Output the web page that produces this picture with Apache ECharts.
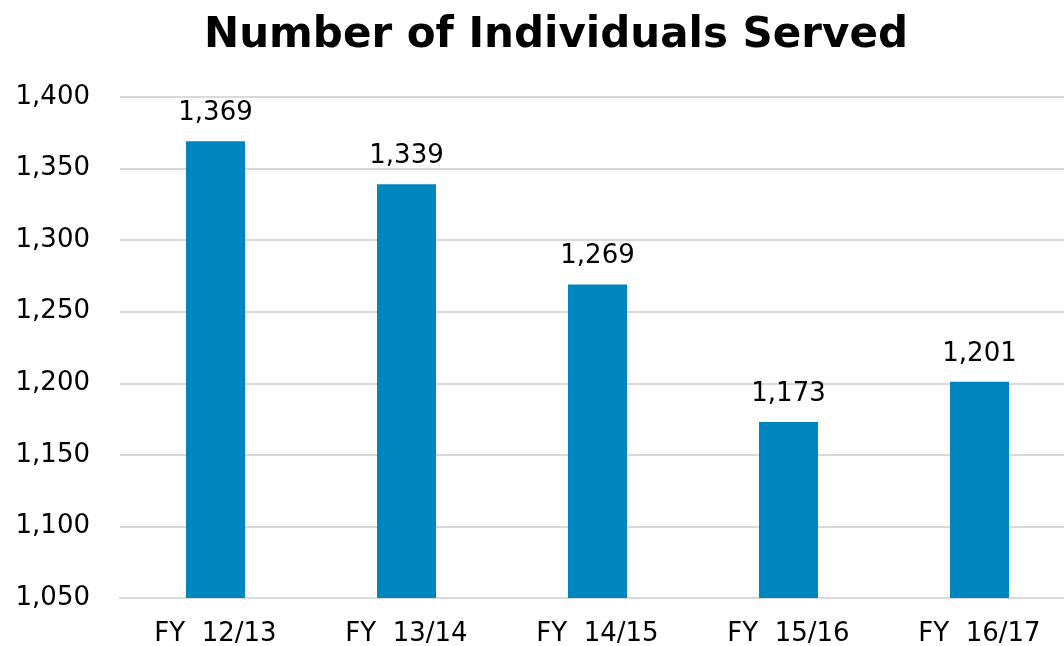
<!DOCTYPE html>
<html>
<head>
<meta charset="utf-8">
<script src="https://cdn.jsdelivr.net/npm/echarts@6/dist/echarts.min.js"></script>
<style>
  html, body { margin: 0; padding: 0; background: #fff; }
  #main { width: 1064px; height: 646px; }
</style>
</head>
<body>
<div id="main"></div>
<script>
// chart data
const categories = ['FY 12/13', 'FY 13/14', 'FY 14/15', 'FY 15/16', 'FY 16/17'];
const individuals = [1369, 1339, 1269, 1173, 1201];

const fmt = v => v.toLocaleString('en-US');

const myChart = echarts.init(document.getElementById('main'));

let option = {
  animation: false,
  textStyle: { fontFamily: 'DejaVu Sans, sans-serif' },
  title: {
    text: 'Number of Individuals Served',
    left: 551,
    top: 10,
    textAlign: 'center',
    textStyle: { fontSize: 42, fontWeight: 'bold', color: '#000', fontFamily: 'DejaVu Sans' }
  },
  grid: { left: 120, width: 955, top: 97, bottom: 48, outerBoundsMode: 'none', containLabel: false },
  xAxis: {
    type: 'category',
    data: categories,
    axisTick: { show: false },
    axisLine: { lineStyle: { color: '#d9d9d9', width: 2 } },
    axisLabel: { fontSize: 26, color: '#000', margin: 23, formatter: v => v.replace(' ', '  ') }
  },
  yAxis: {
    type: 'value',
    min: 1050,
    max: 1400,
    interval: 50,
    axisLabel: { fontSize: 26, color: '#000', margin: 30, formatter: fmt },
    splitLine: { lineStyle: { color: '#d9d9d9', width: 2 } }
  },
  series: [{
    type: 'bar',
    data: individuals,
    barWidth: 59,
    itemStyle: { color: '#0086bf' },
    label: {
      show: true,
      position: 'top',
      distance: 15,
      fontSize: 26,
      color: '#000',
      formatter: p => fmt(p.value)
    }
  }]
};

myChart.setOption(option);
</script>
</body>
</html>
